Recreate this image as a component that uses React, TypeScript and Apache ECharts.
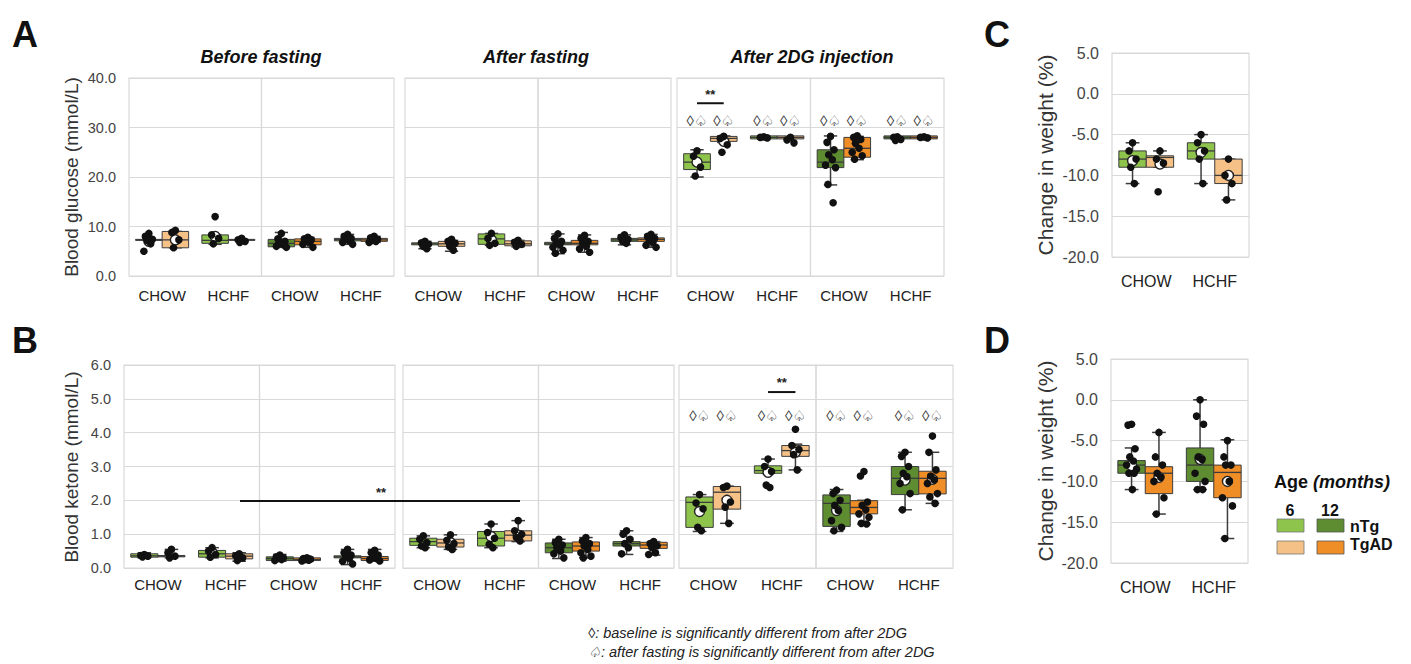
import React, { useEffect, useRef } from "react";
import * as echarts from "echarts";

// ---------------- DATA ----------------
const categories = ["CHOW", "HCHF"];
// Order inside each array: CHOW-nTg, CHOW-TgAD, HCHF-nTg, HCHF-TgAD
// box = [min, q1, median, q3, max]; mean = null where the mean marker is hidden by the points

// A: Blood glucose (mmol/L)
const glcBefore6Box = [[7.2, 7.2, 7.3, 7.4, 7.4], [5.7, 5.7, 7.3, 9.0, 9.0], [6.4, 6.6, 7.2, 8.3, 8.3], [7.2, 7.2, 7.3, 7.4, 7.4]];
const glcBefore6Mean = [7.0, 7.3, 8.0, null];
const glcBefore6Pts = [[8.6, 8.0, 7.4, 7.2, 6.5, 5.0], [9.2, 8.8, 7.3, 5.7], [12.0, 8.3, 7.6, 6.5], [7.6, 7.3, 7.0, 6.8]];
const glcBefore12Box = [[5.8, 5.9, 6.6, 7.4, 8.8], [5.8, 6.3, 7.0, 7.5, 7.8], [6.4, 7.1, 7.4, 7.6, 8.4], [6.8, 7.0, 7.3, 7.6, 8.0]];
const glcBefore12Mean = [null, null, null, null];
const glcBefore12Pts = [[8.6, 7.5, 7.0, 6.6, 6.3, 6.0, 5.8, 6.9], [7.8, 7.5, 7.3, 7.0, 6.8, 6.4, 5.8], [8.4, 8.0, 7.6, 7.4, 7.1, 6.8, 6.4], [8.0, 7.7, 7.4, 7.2, 7.0, 6.8]];
const glcFast6Box = [[5.5, 6.3, 6.5, 6.7, 7.0], [5.0, 6.0, 6.5, 7.0, 7.2], [6.2, 6.4, 7.5, 8.5, 8.6], [5.9, 6.1, 6.5, 7.1, 7.2]];
const glcFast6Mean = [null, 6.5, 7.3, null];
const glcFast6Pts = [[7.0, 6.7, 6.4, 6.0, 5.5], [7.4, 7.0, 6.6, 6.0, 5.2], [8.6, 7.6, 6.6, 6.2], [7.2, 6.8, 6.4, 6.0]];
const glcFast12Box = [[4.5, 6.3, 6.5, 6.8, 8.5], [4.8, 6.3, 6.6, 7.2, 8.3], [6.3, 7.0, 7.3, 7.6, 8.3], [5.8, 7.0, 7.4, 7.7, 8.4]];
const glcFast12Mean = [null, null, null, null];
const glcFast12Pts = [[8.5, 7.6, 7.0, 6.6, 6.3, 5.8, 5.2, 4.6], [8.2, 7.6, 7.0, 6.6, 6.0, 5.5, 4.8], [8.3, 7.8, 7.4, 7.0, 6.6], [8.4, 8.0, 7.6, 7.2, 6.8, 6.2, 5.8]];
const glc2dg6Box = [[20.0, 21.5, 23.0, 24.7, 25.5], [27.0, 27.2, 27.8, 28.2, 28.3], [28.0, 28.0, 28.0, 28.0, 28.0], [28.0, 28.0, 28.0, 28.0, 28.0]];
const glc2dg6Mean = [23.0, 27.2, null, null];
const glc2dg6Pts = [[25.3, 24.2, 22.0, 20.2], [28.2, 27.8, 26.5, 25.0], [28.1, 28.0, 27.9], [28.0, 27.5, 26.9]];
const glc2dg12Box = [[18.4, 21.9, 23.0, 25.5, 28.3], [23.5, 24.0, 25.8, 28.0, 28.2], [28.0, 28.0, 28.0, 28.0, 28.0], [28.0, 28.0, 28.0, 28.0, 28.0]];
const glc2dg12Mean = [null, null, null, null];
const glc2dg12Pts = [[28.2, 27.0, 25.5, 24.5, 23.5, 22.4, 21.9, 18.5, 14.8], [28.3, 28.0, 27.6, 26.8, 25.8, 25.0, 24.3, 23.6], [28.1, 28.0, 27.6, 27.4], [28.1, 28.0, 27.9]];

// B: Blood ketone (mmol/L)
const ketBefore6Box = [[0.3, 0.32, 0.36, 0.42, 0.45], [0.3, 0.33, 0.35, 0.37, 0.55], [0.3, 0.32, 0.42, 0.52, 0.6], [0.2, 0.27, 0.35, 0.42, 0.45]];
const ketBefore6Mean = [null, null, 0.45, null];
const ketBefore6Pts = [[0.4, 0.37, 0.35, 0.33], [0.55, 0.45, 0.35, 0.3], [0.6, 0.5, 0.4, 0.32], [0.42, 0.36, 0.3, 0.22]];
const ketBefore12Box = [[0.2, 0.22, 0.28, 0.33, 0.4], [0.2, 0.22, 0.25, 0.3, 0.32], [0.1, 0.3, 0.33, 0.36, 0.55], [0.2, 0.22, 0.28, 0.34, 0.55]];
const ketBefore12Mean = [null, null, null, null];
const ketBefore12Pts = [[0.38, 0.33, 0.3, 0.28, 0.25, 0.22], [0.3, 0.28, 0.26, 0.25, 0.23, 0.21], [0.55, 0.45, 0.38, 0.33, 0.28, 0.2, 0.12], [0.52, 0.45, 0.38, 0.32, 0.28, 0.24, 0.21]];
const ketFast6Box = [[0.6, 0.67, 0.78, 0.88, 0.95], [0.55, 0.62, 0.74, 0.85, 0.98], [0.6, 0.65, 0.88, 1.08, 1.3], [0.78, 0.8, 0.97, 1.1, 1.4]];
const ketFast6Mean = [null, 0.75, 0.93, 0.97];
const ketFast6Pts = [[0.95, 0.85, 0.75, 0.65, 0.6], [0.98, 0.82, 0.72, 0.62, 0.55], [1.3, 1.05, 0.88, 0.7, 0.6], [1.4, 1.1, 1.0, 0.9, 0.8]];
const ketFast12Box = [[0.28, 0.45, 0.6, 0.74, 0.85], [0.3, 0.5, 0.65, 0.77, 0.9], [0.4, 0.65, 0.72, 0.78, 1.1], [0.38, 0.58, 0.68, 0.76, 0.78]];
const ketFast12Mean = [0.6, null, null, null];
const ketFast12Pts = [[0.85, 0.75, 0.68, 0.6, 0.5, 0.42, 0.3], [0.9, 0.8, 0.72, 0.65, 0.55, 0.45, 0.35, 0.3], [1.1, 1.0, 0.85, 0.72, 0.6, 0.42], [0.78, 0.72, 0.66, 0.6, 0.45, 0.4]];
const ket2dg6Box = [[1.08, 1.2, 1.94, 2.1, 2.17], [1.32, 1.74, 2.24, 2.41, 2.42], [2.8, 2.8, 2.88, 3.02, 3.22], [2.9, 3.3, 3.47, 3.62, 3.66]];
const ket2dg6Mean = [1.67, 2.0, 2.83, 3.42];
const ket2dg6Pts = [[2.17, 1.92, 1.75, 1.2, 1.1], [2.42, 2.38, 1.95, 1.8, 1.32], [3.22, 3.0, 2.85, 2.45, 2.38], [4.1, 3.62, 3.5, 3.35, 2.9]];
const ket2dg12Box = [[1.08, 1.23, 1.91, 2.16, 2.32], [1.3, 1.6, 1.79, 1.99, 2.0], [1.72, 2.17, 2.65, 3.0, 3.42], [1.91, 2.19, 2.65, 2.86, 3.42]];
const ket2dg12Mean = [1.7, null, 2.6, 2.62];
const ket2dg12Pts = [[2.3, 2.2, 2.0, 1.85, 1.7, 1.4, 1.2, 1.1], [2.85, 2.72, 1.95, 1.85, 1.72, 1.6, 1.5, 1.32, 1.3], [3.42, 3.3, 3.0, 2.8, 2.7, 2.5, 2.2, 1.72], [3.9, 3.42, 2.9, 2.72, 2.6, 2.5, 2.2, 2.1, 1.91]];

// C: Change in weight (%), 6 months
const wtC6Box = [[-11, -9, -8, -7, -6], [-9, -9, -7.8, -7.6, -7], [-11, -8, -7, -6, -5], [-13, -11, -10, -8, -8]];
const wtC6Mean = [-8.2, -8.6, -7.2, -10];
const wtC6Pts = [[-6, -7, -8, -9, -11], [-7, -8, -8.5, -12], [-5, -6, -7, -8, -11], [-8, -10, -11, -13]];
// D: Change in weight (%), 12 months
const wtD12Box = [[-11, -9, -8, -7.45, -5.9], [-14, -11.5, -9, -8.2, -4], [-11, -10, -8, -5.9, 0], [-17, -12, -8.9, -8, -4.9]];
const wtD12Mean = [-8.06, -9.5, -7.3, -10];
const wtD12Pts = [[-3, -3.1, -6, -7, -7.5, -8, -8.5, -9, -9, -11], [-4, -7, -8, -9, -9.5, -10, -12, -14], [0, -2, -3, -7, -7.3, -9, -10, -11, -11], [-5, -7, -8, -8, -10, -12, -13, -17]];

// significance annotation levels (data units)
const glcSymbolLevel = 31.5;
const ketSymbolLevel = 4.5;
const glcBracket = { cat: 0, line: 34.9, star: 36.6 };
const ketBracket = { cat: 1, line: 5.2, star: 5.48 };

// ---------------- STYLE ----------------
const FONT = "'Liberation Sans', Arial, Helvetica, sans-serif";
const SYMFONT = "'Liberation Sans', 'DejaVu Sans', sans-serif";
const LIGHT = ["#8fc44c", "#f5c187"];
const DARK = ["#5e8c31", "#ef8d27"];
const EDGE = "#3c3c3c";
const GRIDC = "#d9d9d9";
const BOX_FRAC = 0.4;
const JITTER = [0, -3.5, 3.5, -1.8, 1.8, -5, 5, -2.6, 2.6, 0.8];

const boxRenderer = (palette: string[]) => (params: any, api: any) => {
  const cat = api.value(0);
  const g = api.value(1);
  const band = api.size([1, 0])[0];
  const bw = band * BOX_FRAC;
  const center = api.coord([cat, 0])[0];
  const cx = center + (g === 0 ? -bw / 2 : bw / 2);
  const y = (d: number) => api.coord([cat, api.value(d)])[1];
  const yMin = y(2), yQ1 = y(3), yMed = y(4), yQ3 = y(5), yMax = y(6);
  const x0 = cx - bw / 2;
  const cap = bw * 0.25;
  const ls = { stroke: EDGE, lineWidth: 1.5 };
  const children: any[] = [
    { type: "line", shape: { x1: cx, y1: yQ3, x2: cx, y2: yMax }, style: ls },
    { type: "line", shape: { x1: cx, y1: yQ1, x2: cx, y2: yMin }, style: ls },
    { type: "line", shape: { x1: cx - cap, y1: yMax, x2: cx + cap, y2: yMax }, style: ls },
    { type: "line", shape: { x1: cx - cap, y1: yMin, x2: cx + cap, y2: yMin }, style: ls },
  ];
  if (yQ1 - yQ3 > 0.5) {
    children.push({
      type: "rect",
      shape: { x: x0, y: yQ3, width: bw, height: yQ1 - yQ3 },
      style: { fill: palette[g], stroke: EDGE, lineWidth: 1 },
    });
  } else {
    children.push({
      type: "rect",
      shape: { x: x0, y: yMed - 1.5, width: bw, height: 3 },
      style: { fill: palette[g], stroke: EDGE, lineWidth: 1 },
    });
  }
  children.push({ type: "line", shape: { x1: x0, y1: yMed, x2: x0 + bw, y2: yMed }, style: { stroke: EDGE, lineWidth: 1.3 } });
  return { type: "group", children };
};

const offsetX = (api: any, cat: number, g: number) => {
  const band = api.size([1, 0])[0];
  const bw = band * BOX_FRAC;
  return api.coord([cat, 0])[0] + (g === 0 ? -bw / 2 : bw / 2);
};

const pointRenderer = (params: any, api: any) => {
  const cat = api.value(0), g = api.value(1), j = api.value(3);
  const cx = offsetX(api, cat, g) + JITTER[j % JITTER.length];
  const cy = api.coord([cat, api.value(2)])[1];
  return { type: "circle", shape: { cx, cy, r: 3.8 }, style: { fill: "#111" } };
};

const meanRenderer = (params: any, api: any) => {
  const cat = api.value(0), g = api.value(1);
  const cx = offsetX(api, cat, g);
  const cy = api.coord([cat, api.value(2)])[1];
  return { type: "circle", shape: { cx, cy, r: 5 }, style: { fill: "#fff", stroke: "#222", lineWidth: 1.4 } };
};

const symbolRenderer = (params: any, api: any) => {
  const cat = api.value(0), g = api.value(1);
  const cx = offsetX(api, cat, g);
  const cy = api.coord([cat, api.value(2)])[1];
  return {
    type: "text",
    x: cx,
    y: cy,
    style: { text: "\u25CA\u2664", fill: "#333", font: `15px ${SYMFONT}`, align: "center", verticalAlign: "middle", textAlign: "center", textVerticalAlign: "middle" },
  };
};

const bracketRenderer = (params: any, api: any) => {
  const cat = api.value(0);
  const x1 = offsetX(api, cat, 0);
  const x2 = offsetX(api, cat, 1);
  const yl = api.coord([cat, api.value(1)])[1];
  const ys = api.coord([cat, api.value(2)])[1];
  return {
    type: "group",
    children: [
      { type: "line", shape: { x1, y1: yl, x2, y2: yl }, style: { stroke: "#111", lineWidth: 2 } },
      { type: "text", x: (x1 + x2) / 2, y: ys, style: { text: "**", fill: "#222", font: `bold 13px ${FONT}`, align: "center", verticalAlign: "middle", textAlign: "center", textVerticalAlign: "middle" } },
    ],
  };
};

type Half = {
  left: number; top: number; width: number; height: number;
  min: number; max: number; interval: number; showY: boolean;
  box: number[][]; mean: (number | null)[]; pts: number[][]; palette: string[];
  tickFont: number; catFont: number; catMargin: number;
  symLevel?: number; bracket?: { cat: number; line: number; star: number };
};

const aLayout = [[129, 132.5], [261.5, 132.5], [405, 133], [538, 133], [677, 133.5], [810.5, 133.5]];
const bLayout = [[124, 135.5], [259.5, 135.5], [403, 135.5], [538.5, 135.5], [679, 137], [816, 137]];

const aData = [
  [glcBefore6Box, glcBefore6Mean, glcBefore6Pts],
  [glcBefore12Box, glcBefore12Mean, glcBefore12Pts],
  [glcFast6Box, glcFast6Mean, glcFast6Pts],
  [glcFast12Box, glcFast12Mean, glcFast12Pts],
  [glc2dg6Box, glc2dg6Mean, glc2dg6Pts],
  [glc2dg12Box, glc2dg12Mean, glc2dg12Pts],
];
const bData = [
  [ketBefore6Box, ketBefore6Mean, ketBefore6Pts],
  [ketBefore12Box, ketBefore12Mean, ketBefore12Pts],
  [ketFast6Box, ketFast6Mean, ketFast6Pts],
  [ketFast12Box, ketFast12Mean, ketFast12Pts],
  [ket2dg6Box, ket2dg6Mean, ket2dg6Pts],
  [ket2dg12Box, ket2dg12Mean, ket2dg12Pts],
];

function buildHalves(): Half[] {
  const halves: Half[] = [];
  aLayout.forEach(([left, width], i) => {
    const [box, mean, pts] = aData[i] as any;
    halves.push({
      left, top: 78, width, height: 198, min: 0, max: 40, interval: 10, showY: i === 0,
      box, mean, pts, palette: i % 2 === 0 ? LIGHT : DARK, tickFont: 14.5, catFont: 15, catMargin: 12,
      symLevel: i >= 4 ? glcSymbolLevel : undefined, bracket: i === 4 ? glcBracket : undefined,
    });
  });
  bLayout.forEach(([left, width], i) => {
    const [box, mean, pts] = bData[i] as any;
    halves.push({
      left, top: 365, width, height: 203, min: 0, max: 6, interval: 1, showY: i === 0,
      box, mean, pts, palette: i % 2 === 0 ? LIGHT : DARK, tickFont: 14.5, catFont: 15, catMargin: 9,
      symLevel: i >= 4 ? ketSymbolLevel : undefined, bracket: i === 4 ? ketBracket : undefined,
    });
  });
  halves.push({ left: 1112, top: 53, width: 137, height: 204, min: -20, max: 5, interval: 5, showY: true, box: wtC6Box, mean: wtC6Mean, pts: wtC6Pts, palette: LIGHT, tickFont: 16, catFont: 16, catMargin: 16 });
  halves.push({ left: 1111, top: 359, width: 137, height: 204, min: -20, max: 5, interval: 5, showY: true, box: wtD12Box, mean: wtD12Mean, pts: wtD12Pts, palette: DARK, tickFont: 16, catFont: 16, catMargin: 16 });
  return halves;
}

const txt = (x: number, y: number, text: string, font: string, align = "left", vAlign = "middle", fill = "#111", rotation = 0) => ({
  type: "text",
  x, y, rotation,
  style: { text, font, fill, textAlign: align, textVerticalAlign: vAlign, align, verticalAlign: vAlign },
  silent: true,
});

function buildOption() {
  const halves = buildHalves();
  const grid: any[] = [];
  const xAxis: any[] = [];
  const yAxis: any[] = [];
  const series: any[] = [];
  halves.forEach((h, i) => {
    grid.push({ left: h.left, top: h.top, width: h.width, height: h.height, show: true, borderColor: GRIDC, borderWidth: 1.2, containLabel: false });
    xAxis.push({
      gridIndex: i, type: "category", data: categories,
      axisLine: { show: false }, axisTick: { show: false }, splitLine: { show: false },
      axisLabel: { color: "#222", fontSize: h.catFont, fontFamily: FONT, margin: h.catMargin },
    });
    yAxis.push({
      gridIndex: i, type: "value", min: h.min, max: h.max, interval: h.interval,
      axisLine: { show: false }, axisTick: { show: false },
      splitLine: { show: true, lineStyle: { color: GRIDC, width: 1.2 } },
      axisLabel: { show: h.showY, color: "#444", fontSize: h.tickFont, fontFamily: FONT, margin: 13, formatter: (v: number) => v.toFixed(1) },
    });
    series.push({
      type: "custom", xAxisIndex: i, yAxisIndex: i, z: 2, silent: true,
      renderItem: boxRenderer(h.palette),
      encode: { x: 0, y: [2, 3, 4, 5, 6] },
      data: h.box.map((b, k) => [k >> 1, k & 1, ...b]),
    });
    const means: number[][] = [];
    h.mean.forEach((m, k) => { if (m !== null) means.push([k >> 1, k & 1, m]); });
    series.push({
      type: "custom", xAxisIndex: i, yAxisIndex: i, z: 3, silent: true,
      renderItem: meanRenderer, encode: { x: 0, y: 2 },
      data: means,
    });
    const pts: number[][] = [];
    h.pts.forEach((list, k) => list.forEach((v, j) => pts.push([k >> 1, k & 1, v, j])));
    series.push({
      type: "custom", xAxisIndex: i, yAxisIndex: i, z: 4, silent: true,
      renderItem: pointRenderer, encode: { x: 0, y: 2 }, data: pts,
    });
    if (h.symLevel !== undefined) {
      series.push({
        type: "custom", xAxisIndex: i, yAxisIndex: i, z: 5, silent: true,
        renderItem: symbolRenderer, encode: { x: 0, y: 2 },
        data: [0, 1, 2, 3].map((k) => [k >> 1, k & 1, h.symLevel]),
      });
    }
    if (h.bracket) {
      series.push({
        type: "custom", xAxisIndex: i, yAxisIndex: i, z: 5, silent: true,
        renderItem: bracketRenderer, encode: { x: 0, y: 1 },
        data: [[h.bracket.cat, h.bracket.line, h.bracket.star]],
      });
    }
  });

  const graphic: any[] = [
    txt(12, 34, "A", `bold 36px ${FONT}`),
    txt(12, 340, "B", `bold 36px ${FONT}`),
    txt(984, 34, "C", `bold 36px ${FONT}`),
    txt(984, 340, "D", `bold 36px ${FONT}`),
    txt(261, 57, "Before fasting", `italic bold 18px ${FONT}`, "center"),
    txt(536, 57, "After fasting", `italic bold 18px ${FONT}`, "center"),
    txt(812, 57, "After 2DG injection", `italic bold 18px ${FONT}`, "center"),
    txt(71, 177, "Blood glucose (mmol/L)", `19px ${FONT}`, "center", "middle", "#333", Math.PI / 2),
    txt(71, 467, "Blood ketone (mmol/L)", `19px ${FONT}`, "center", "middle", "#333", Math.PI / 2),
    txt(1045, 155, "Change in weight (%)", `21px ${FONT}`, "center", "middle", "#333", Math.PI / 2),
    txt(1045, 461, "Change in weight (%)", `21px ${FONT}`, "center", "middle", "#333", Math.PI / 2),
    // long bracket across B before/after fasting
    { type: "rect", shape: { x: 240, y: 500, width: 280, height: 2 }, style: { fill: "#111" }, silent: true, z: 10 },
    txt(381, 492, "**", `bold 13px ${FONT}`, "center", "middle", "#222"),
    // legend
    txt(1274, 482, "Age", `bold 18px ${FONT}`),
    txt(1313, 482, "(months)", `italic bold 18px ${FONT}`),
    txt(1290, 510, "6", `bold 16px ${FONT}`, "center"),
    txt(1330, 510, "12", `bold 16px ${FONT}`, "center"),
    { type: "rect", shape: { x: 1277, y: 519, width: 27, height: 13 }, style: { fill: LIGHT[0], stroke: "#777", lineWidth: 0.8 }, silent: true },
    { type: "rect", shape: { x: 1317, y: 519, width: 27, height: 13 }, style: { fill: DARK[0], stroke: "#555", lineWidth: 0.8 }, silent: true },
    { type: "rect", shape: { x: 1277, y: 541, width: 27, height: 13 }, style: { fill: LIGHT[1], stroke: "#777", lineWidth: 0.8 }, silent: true },
    { type: "rect", shape: { x: 1317, y: 541, width: 27, height: 13 }, style: { fill: DARK[1], stroke: "#555", lineWidth: 0.8 }, silent: true },
    txt(1350, 526, "nTg", `bold 16px ${FONT}`),
    txt(1350, 544, "TgAD", `bold 16px ${FONT}`),
    // footnote
    txt(588, 633, "\u25CA: baseline is significantly different from after 2DG", `italic 14.5px ${FONT}`, "left", "middle", "#222"),
    txt(588, 652, "\u2664: after fasting is significantly different from after 2DG", `italic 14.5px ${FONT}`, "left", "middle", "#222"),
  ];

  return { animation: false, backgroundColor: "#fff", grid, xAxis, yAxis, series, graphic };
}

export default function App() {
  const ref = useRef<HTMLDivElement>(null);
  useEffect(() => {
    if (!ref.current) return;
    const chart = echarts.init(ref.current, undefined, { renderer: "svg" });
    chart.setOption(buildOption() as any);
    return () => chart.dispose();
  }, []);
  return <div ref={ref} style={{ position: "fixed", left: 0, top: 0, width: 1411, height: 664, background: "#fff" }} />;
}
